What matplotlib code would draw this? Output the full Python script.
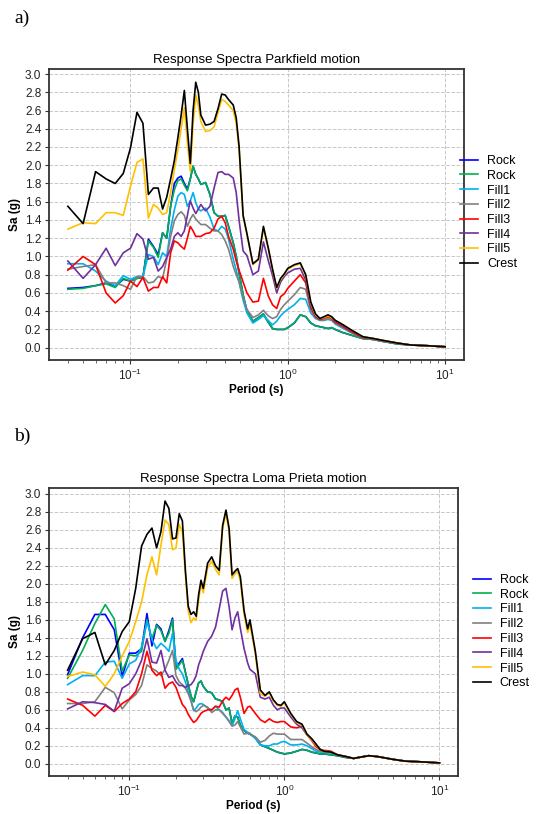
import matplotlib
matplotlib.use("Agg")
import matplotlib.pyplot as plt

plt.rcParams['font.family'] = ['Liberation Sans', 'DejaVu Sans']

# ---- Data: Parkfield ----
period_a = [0.04, 0.05, 0.06, 0.07, 0.08, 0.09, 0.10, 0.11, 0.12, 0.13,
            0.14, 0.15, 0.16, 0.17, 0.18, 0.19, 0.20, 0.21, 0.22, 0.23,
            0.24, 0.25, 0.26, 0.27, 0.28,
            0.30, 0.32, 0.34, 0.36, 0.38, 0.40, 0.42,
            0.45, 0.47, 0.49, 0.52, 0.55,
            0.60, 0.65, 0.70, 0.75, 0.80, 0.85, 0.90, 0.95, 1.0,
            1.1, 1.2, 1.3, 1.4, 1.5, 1.6, 1.7, 1.8, 1.9, 2.0,
            2.2, 2.5, 3.0, 3.5, 4.0, 5.0, 6.0, 8.0, 10.0]

rock1_a = [0.65, 0.66, 0.68, 0.71, 0.67, 0.75, 0.73, 0.76, 0.77, 1.19,
           1.11, 1.02, 1.26, 1.20, 1.55, 1.80, 1.86, 1.88, 1.80, 1.74,
           1.85, 1.99, 1.90, 1.85, 1.79,
           1.81, 1.68, 1.48, 1.44, 1.44, 1.45, 1.33,
           1.15, 1.00, 0.82, 0.58, 0.40,
           0.29, 0.33, 0.37, 0.28, 0.21, 0.20, 0.20, 0.20, 0.22,
           0.27, 0.36, 0.34, 0.27, 0.24, 0.23, 0.22, 0.21, 0.22, 0.20,
           0.17, 0.14, 0.10, 0.09, 0.07, 0.04, 0.03, 0.02, 0.01]
rock2_a = [0.64, 0.65, 0.68, 0.70, 0.66, 0.76, 0.73, 0.76, 0.77, 1.17,
           1.10, 0.99, 1.26, 1.20, 1.55, 1.73, 1.83, 1.85, 1.78, 1.72,
           1.85, 1.99, 1.90, 1.85, 1.79,
           1.81, 1.68, 1.48, 1.44, 1.44, 1.45, 1.33,
           1.15, 1.00, 0.82, 0.58, 0.40,
           0.29, 0.33, 0.37, 0.28, 0.21, 0.20, 0.20, 0.20, 0.22,
           0.27, 0.36, 0.34, 0.27, 0.24, 0.23, 0.22, 0.21, 0.22, 0.20,
           0.17, 0.14, 0.10, 0.09, 0.07, 0.04, 0.03, 0.02, 0.01]
fill1_a = [0.92, 0.92, 0.84, 0.73, 0.68, 0.79, 0.75, 0.78, 0.78, 1.02,
           1.00, 0.91, 1.04, 1.00, 1.30, 1.51, 1.66, 1.70, 1.68, 1.55,
           1.61, 1.70, 1.59, 1.52, 1.50,
           1.53, 1.43, 1.30, 1.28, 1.33, 1.30, 1.19,
           0.97, 0.85, 0.72, 0.52, 0.38,
           0.27, 0.31, 0.35, 0.30, 0.25, 0.29, 0.35, 0.39, 0.42,
           0.47, 0.54, 0.53, 0.38, 0.32, 0.30, 0.30, 0.31, 0.30, 0.26,
           0.22, 0.17, 0.11, 0.09, 0.07, 0.05, 0.03, 0.02, 0.01]
fill2_a = [0.86, 0.89, 0.91, 0.71, 0.71, 0.68, 0.64, 0.78, 0.78, 0.71,
           0.72, 0.78, 0.76, 0.97, 1.22, 1.39, 1.46, 1.49, 1.45, 1.33,
           1.41, 1.46, 1.41, 1.38, 1.35,
           1.35, 1.31, 1.28, 1.28, 1.24, 1.17, 1.08,
           0.89, 0.80, 0.72, 0.55, 0.42,
           0.33, 0.36, 0.41, 0.35, 0.32, 0.34, 0.42, 0.47, 0.51,
           0.58, 0.66, 0.64, 0.41, 0.33, 0.30, 0.30, 0.32, 0.30, 0.27,
           0.23, 0.17, 0.11, 0.09, 0.07, 0.05, 0.03, 0.02, 0.01]
fill3_a = [0.85, 1.00, 0.91, 0.60, 0.49, 0.57, 0.73, 0.67, 0.77, 0.62,
           0.66, 0.66, 0.78, 0.71, 1.04, 1.17, 1.15, 1.11, 1.08, 1.20,
           1.33, 1.28, 1.22, 1.22, 1.22,
           1.25, 1.26, 1.31, 1.41, 1.44, 1.37, 1.22,
           1.08, 0.95, 0.85, 0.72, 0.60,
           0.50, 0.51, 0.76, 0.57, 0.47, 0.43, 0.56, 0.59, 0.65,
           0.73, 0.80, 0.71, 0.44, 0.34, 0.31, 0.32, 0.34, 0.32, 0.28,
           0.24, 0.18, 0.11, 0.10, 0.08, 0.05, 0.03, 0.02, 0.01]
fill4_a = [0.95, 0.76, 0.91, 1.09, 0.90, 1.04, 1.09, 1.25, 1.19, 0.97,
           0.99, 0.84, 0.89, 0.99, 1.08, 1.22, 1.26, 1.22, 1.28, 1.45,
           1.61, 1.53, 1.47, 1.52, 1.57,
           1.50, 1.55, 1.75, 1.92, 1.93, 1.90, 1.90,
           1.86, 1.70, 1.40, 1.06, 1.01,
           0.80, 0.84, 1.16, 0.96, 0.79, 0.60, 0.72, 0.78, 0.82,
           0.86, 0.87, 0.74, 0.46, 0.35, 0.31, 0.33, 0.35, 0.33, 0.29,
           0.25, 0.19, 0.12, 0.10, 0.08, 0.05, 0.03, 0.02, 0.01]
fill5_a = [1.30, 1.37, 1.36, 1.48, 1.48, 1.45, 1.77, 2.03, 2.07, 1.42,
           1.57, 1.53, 1.46, 1.48, 1.70, 1.95, 2.17, 2.40, 2.63, 2.25,
           1.93, 2.45, 2.77, 2.65, 2.48,
           2.37, 2.38, 2.42, 2.58, 2.72, 2.70, 2.66,
           2.60, 2.46, 2.18, 1.44, 1.24,
           0.91, 0.96, 1.31, 1.09, 0.85, 0.65, 0.75, 0.80, 0.86,
           0.90, 0.92, 0.79, 0.49, 0.36, 0.32, 0.33, 0.35, 0.33, 0.30,
           0.26, 0.20, 0.12, 0.10, 0.08, 0.05, 0.03, 0.02, 0.01]
crest_a = [1.55, 1.36, 1.93, 1.85, 1.80, 1.91, 2.19, 2.58, 2.46, 1.68,
           1.75, 1.75, 1.52, 1.65, 1.85, 2.05, 2.30, 2.55, 2.82, 2.40,
           2.02, 2.60, 2.91, 2.80, 2.55,
           2.44, 2.45, 2.48, 2.62, 2.78, 2.77, 2.72,
           2.66, 2.52, 2.21, 1.45, 1.25,
           0.92, 0.97, 1.33, 1.10, 0.86, 0.66, 0.76, 0.81, 0.87,
           0.91, 0.93, 0.80, 0.50, 0.37, 0.32, 0.34, 0.36, 0.34, 0.30,
           0.26, 0.20, 0.12, 0.10, 0.08, 0.05, 0.03, 0.02, 0.01]

# ---- Data: Loma Prieta ----
period_b = [0.04, 0.05, 0.06, 0.07, 0.08, 0.09, 0.10, 0.11, 0.12, 0.13,
            0.14, 0.15, 0.16, 0.17, 0.18, 0.19, 0.20, 0.21, 0.22, 0.23,
            0.24, 0.25, 0.26, 0.27, 0.28, 0.29, 0.30,
            0.32, 0.34, 0.36, 0.38, 0.40, 0.42, 0.44, 0.46, 0.48, 0.50, 0.52,
            0.55, 0.58, 0.60, 0.65, 0.70, 0.75, 0.80, 0.85, 0.90, 0.95, 1.0,
            1.1, 1.2, 1.3, 1.4, 1.5, 1.6, 1.7, 1.8, 2.0,
            2.2, 2.5, 2.8, 3.0, 3.5, 4.0, 5.0, 6.0, 8.0, 10.0]

rock1_b = [0.99, 1.40, 1.66, 1.66, 1.49, 0.97, 1.23, 1.23, 1.28, 1.67,
           1.31, 1.55, 1.50, 1.36, 1.48, 1.62, 1.06, 1.12, 1.17, 1.02,
           0.88, 0.75, 0.69, 0.80, 0.90, 0.92, 0.86,
           0.80, 0.79, 0.72, 0.71, 0.69, 0.60, 0.62, 0.45, 0.53, 0.52, 0.43,
           0.37, 0.34, 0.33, 0.29, 0.21, 0.19, 0.17, 0.15, 0.13, 0.12, 0.11,
           0.12, 0.14, 0.16, 0.15, 0.13, 0.12, 0.11, 0.11, 0.10,
           0.09, 0.07, 0.06, 0.07, 0.09, 0.08, 0.05, 0.03, 0.02, 0.01]
rock2_b = [0.95, 1.26, 1.56, 1.77, 1.61, 1.03, 1.21, 1.20, 1.25, 1.60,
           1.39, 1.54, 1.48, 1.36, 1.45, 1.60, 1.05, 1.10, 1.15, 1.02,
           0.88, 0.75, 0.69, 0.80, 0.90, 0.92, 0.86,
           0.80, 0.79, 0.72, 0.71, 0.69, 0.60, 0.62, 0.45, 0.53, 0.52, 0.43,
           0.37, 0.34, 0.33, 0.29, 0.21, 0.19, 0.17, 0.15, 0.13, 0.12, 0.11,
           0.12, 0.14, 0.16, 0.15, 0.13, 0.12, 0.11, 0.11, 0.10,
           0.09, 0.07, 0.06, 0.07, 0.09, 0.08, 0.05, 0.03, 0.02, 0.01]
fill1_b = [0.88, 0.98, 0.98, 1.13, 1.14, 0.95, 1.11, 1.15, 1.30, 1.58,
           1.38, 1.28, 1.34, 1.30, 1.25, 1.45, 1.15, 1.05, 1.00, 0.91,
           0.80, 0.70, 0.59, 0.62, 0.66, 0.67, 0.66,
           0.62, 0.60, 0.64, 0.60, 0.57, 0.52, 0.48, 0.42, 0.50, 0.59, 0.50,
           0.38, 0.35, 0.34, 0.28, 0.21, 0.20, 0.20, 0.22, 0.22, 0.24, 0.25,
           0.21, 0.21, 0.22, 0.20, 0.17, 0.14, 0.13, 0.13, 0.12,
           0.10, 0.08, 0.06, 0.07, 0.09, 0.08, 0.05, 0.03, 0.02, 0.01]
fill2_b = [0.67, 0.67, 0.69, 0.85, 0.79, 0.61, 0.71, 0.77, 0.87, 1.10,
           1.06, 1.03, 0.98, 1.05, 1.15, 1.26, 0.98, 0.91, 0.88, 0.84,
           0.78, 0.70, 0.60, 0.58, 0.60, 0.63, 0.65,
           0.63, 0.57, 0.60, 0.60, 0.56, 0.52, 0.47, 0.42, 0.43, 0.47, 0.41,
           0.33, 0.34, 0.33, 0.30, 0.24, 0.26, 0.31, 0.34, 0.33, 0.33, 0.33,
           0.27, 0.27, 0.27, 0.23, 0.19, 0.16, 0.14, 0.14, 0.13,
           0.10, 0.08, 0.06, 0.07, 0.09, 0.08, 0.05, 0.03, 0.02, 0.01]
fill3_b = [0.72, 0.65, 0.53, 0.65, 0.58, 0.67, 0.72, 0.80, 1.00, 1.25,
           1.04, 0.98, 1.02, 0.84, 0.89, 0.91, 0.85, 0.75, 0.66, 0.62,
           0.55, 0.50, 0.46, 0.48, 0.52, 0.56, 0.58,
           0.60, 0.60, 0.64, 0.63, 0.70, 0.74, 0.71, 0.76, 0.82, 0.84, 0.74,
           0.56, 0.63, 0.64, 0.56, 0.49, 0.46, 0.50, 0.47, 0.46, 0.47, 0.47,
           0.41, 0.40, 0.42, 0.32, 0.26, 0.19, 0.16, 0.15, 0.14,
           0.10, 0.08, 0.06, 0.07, 0.09, 0.08, 0.05, 0.03, 0.02, 0.01]
fill4_b = [0.61, 0.69, 0.68, 0.66, 0.585, 0.84, 0.89, 1.00, 1.15, 1.39,
           1.13, 1.12, 1.26, 1.04, 0.96, 0.98, 0.91, 0.87, 0.87, 0.85,
           0.87, 0.88, 0.92, 0.98, 1.10, 1.17, 1.25,
           1.36, 1.42, 1.52, 1.72, 1.92, 1.95, 1.75, 1.49, 1.62, 1.69, 1.51,
           1.28, 1.12, 1.05, 1.00, 0.74, 0.72, 0.74, 0.65, 0.60, 0.62, 0.62,
           0.52, 0.44, 0.40, 0.32, 0.27, 0.21, 0.16, 0.14, 0.13,
           0.10, 0.08, 0.06, 0.07, 0.09, 0.08, 0.05, 0.03, 0.02, 0.01]
fill5_b = [0.97, 1.02, 0.99, 0.86, 1.00, 1.20, 1.36, 1.58, 1.80, 2.10,
           2.30, 2.10, 2.43, 2.71, 2.66, 2.38, 2.40, 2.66, 2.58, 2.10,
           1.70, 1.57, 1.62, 1.60, 1.82, 2.00, 1.90,
           2.18, 2.25, 2.16, 2.10, 2.62, 2.78, 2.58, 2.06, 2.11, 2.14, 2.04,
           1.66, 1.46, 1.55, 1.22, 0.78, 0.75, 0.79, 0.70, 0.65, 0.64, 0.68,
           0.55, 0.46, 0.43, 0.32, 0.27, 0.21, 0.16, 0.14, 0.13,
           0.10, 0.08, 0.06, 0.07, 0.09, 0.08, 0.05, 0.03, 0.02, 0.01]
crest_b = [1.04, 1.39, 1.46, 1.10, 1.26, 1.47, 1.58, 1.95, 2.42, 2.55,
           2.62, 2.40, 2.58, 2.92, 2.84, 2.50, 2.51, 2.78, 2.70, 2.15,
           1.75, 1.66, 1.69, 1.64, 1.88, 2.04, 1.95,
           2.23, 2.30, 2.20, 2.15, 2.65, 2.82, 2.62, 2.10, 2.14, 2.17, 2.08,
           1.70, 1.50, 1.60, 1.25, 0.82, 0.76, 0.80, 0.71, 0.66, 0.65, 0.69,
           0.56, 0.47, 0.44, 0.33, 0.28, 0.22, 0.16, 0.14, 0.13,
           0.10, 0.08, 0.06, 0.07, 0.09, 0.08, 0.05, 0.03, 0.02, 0.01]

labels = ["Rock", "Rock", "Fill1", "Fill2", "Fill3", "Fill4", "Fill5", "Crest"]
colors = ["#0000ff", "#00b050", "#00b0f0", "#808080",
          "#ff0000", "#7030a0", "#ffc000", "#000000"]

panels = [
    ("Response Spectra Parkfield motion", period_a,
     [rock1_a, rock2_a, fill1_a, fill2_a, fill3_a, fill4_a, fill5_a, crest_a],
     [49 / 544, 454 / 814, 415 / 544, 291 / 814], (460 / 544, 1 - 155 / 814), "a)", 1 - 18 / 814),
    ("Response Spectra Loma Prieta motion", period_b,
     [rock1_b, rock2_b, fill1_b, fill2_b, fill3_b, fill4_b, fill5_b, crest_b],
     [49 / 544, 38 / 814, 409 / 544, 288 / 814], (473 / 544, 1 - 574 / 814), "b)", 1 - 436 / 814),
]

fig = plt.figure(figsize=(5.44, 8.14), dpi=100)

for title, period, series, rect, leg_pos, tag, tag_y in panels:
    ax = fig.add_axes(rect)
    for vals, lab, col in zip(series, labels, colors):
        ax.plot(period, vals, color=col, lw=1.2, label=lab)
    ax.set_xscale("log")
    ax.set_yticks([i / 10 for i in range(0, 31, 2)])
    ax.grid(True, which="major", linestyle="--", color="#c8c8c8", linewidth=0.7)
    ax.set_axisbelow(True)
    for sp in ax.spines.values():
        sp.set_color("#333333")
        sp.set_linewidth(1.3)
    ax.tick_params(axis="both", which="major", labelsize=8.5, colors="#333333",
                   labelcolor="#222222", length=3, pad=2.5)
    ax.tick_params(axis="x", which="minor", colors="#555555", length=2)
    ax.set_title(title, fontsize=9.5, pad=4)
    ax.set_xlabel("Period (s)", fontsize=8.5, fontweight="bold", labelpad=1)
    ax.set_ylabel("Sa (g)", fontsize=8.5, fontweight="bold", labelpad=3)
    ax.legend(loc="upper left", bbox_to_anchor=leg_pos, bbox_transform=fig.transFigure,
              frameon=False, fontsize=9, handlelength=1.45, handletextpad=0.7,
              labelspacing=0.22, borderpad=0, borderaxespad=0)
    fig.text(14 / 544, tag_y, tag, fontsize=14, family="Liberation Serif", va="center", ha="left")

fig.savefig("out.png", dpi=100)
